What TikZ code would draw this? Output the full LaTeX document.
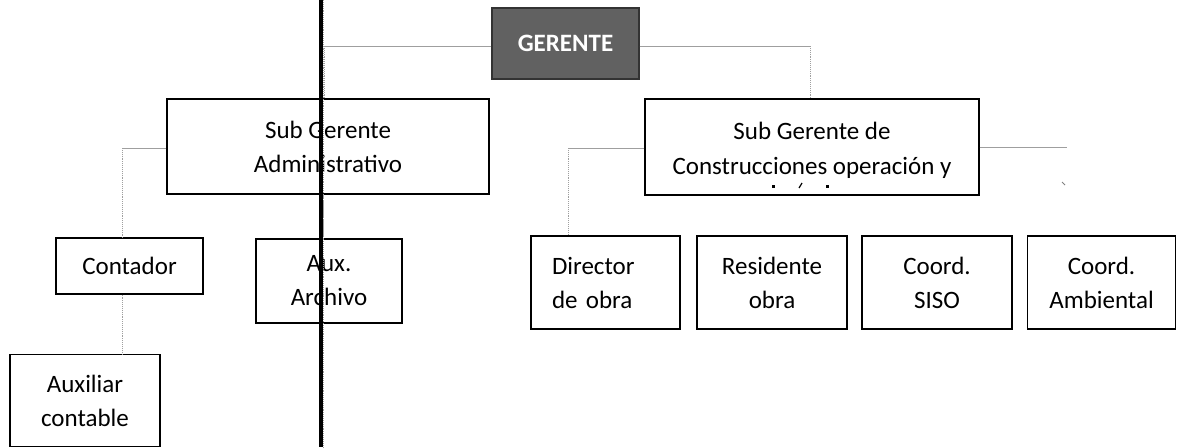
\documentclass[tikz,border=0pt]{standalone}
\usepackage{fontspec}
\setmainfont{Carlito}
\begin{document}
\begin{tikzpicture}[x=1pt,y=-1pt,
  box/.style={draw=black,line width=1.3pt,fill=white,inner sep=0pt,align=center,
    font=\fontsize{25}{34}\selectfont},
  hconn/.style={draw=gray!75,line width=0.9pt},
  vconn/.style={draw=gray!75,line width=0.9pt,densely dotted},
  sepline/.style={draw=black,line width=3.2pt},
  boss/.style={draw=black!80,line width=1.3pt,fill=black!62,text=white,inner sep=0pt,
    font=\fontsize{25}{34}\selectfont\bfseries}]
\useasboundingbox (0,0) rectangle (1177,447);
% connector junctions
\coordinate (jl) at (324,46);
\coordinate (jr) at (810,46);
\coordinate (ja) at (122,148);
\coordinate (jc) at (568,148);
\coordinate (jd) at (1067,147);
\coordinate (sept) at (321,0);
\coordinate (sepb) at (321,447);
\coordinate (dott) at (323.8,0);
\coordinate (dotb) at (323.8,447);
% nodes
\node[boss,minimum width=147pt,minimum height=71pt] (ger) at (565.5,43.5) {GERENTE};
\node[box,minimum width=322pt,minimum height=95pt] (sga) at (328,146.5) {Sub Gerente\\Administrativo};
\node[box,minimum width=334pt,minimum height=96pt] (sgc) at (812,147) {};
\node[align=center,inner sep=0pt,font=\fontsize{25}{35}\selectfont] (sgct) at (812,150) {Sub Gerente de\\Construcciones operación y};
\node[box,minimum width=147pt,minimum height=56pt] (cont) at (129.5,266) {Contador};
\node[box,minimum width=150pt,minimum height=92pt] (auxc) at (85,400.5) {Auxiliar\\contable};
\node[box,minimum width=146pt,minimum height=84pt] (auxa) at (329,281) {Aux.\\Archivo};
\node[box,align=left,text width=107pt,inner xsep=21pt,minimum height=93pt] (dir) at (605.5,282.5) {Director\\de obra};
\node[box,minimum width=150pt,minimum height=93pt] (res) at (772,282.5) {Residente\\obra};
\node[box,minimum width=150pt,minimum height=93pt] (siso) at (937,282.5) {Coord.\\SISO};
\node[box,minimum width=148pt,minimum height=93pt] (amb) at (1101.5,282.5) {Coord.\\Ambiental};
% clipped third line marks
\fill[black] (772,184.5) rectangle (775,187.5);
\draw[black,line width=1.2pt] (799,188) -- (802,183);
\fill[black] (826,184.5) rectangle (829,187.5);
\draw[gray,line width=0.8pt] (1062,182) -- (1065,185);
% connectors
\draw[hconn] (ger.west |- jl) -- (jl);
\draw[vconn] (jl) -- (jl |- sga.north);
\draw[hconn] (ger.east |- jr) -- (jr);
\draw[vconn] (jr) -- (jr |- sgc.north);
\draw[hconn] (sga.west |- ja) -- (ja);
\draw[vconn] (ja) -- (ja |- cont.north);
\draw[vconn] (cont.south -| ja) -- (auxc.north -| ja);
\draw[vconn] (sga.south -| dott) -- (auxa.north -| dott);
\draw[hconn] (sgc.west |- jc) -- (jc);
\draw[vconn] (jc) -- (jc |- dir.north);
\draw[hconn] (sgc.east |- jd) -- (jd);
% vertical rule
\draw[vconn] (dott) -- (dotb);
\draw[sepline] (sept) -- (sepb);
\end{tikzpicture}
\end{document}
